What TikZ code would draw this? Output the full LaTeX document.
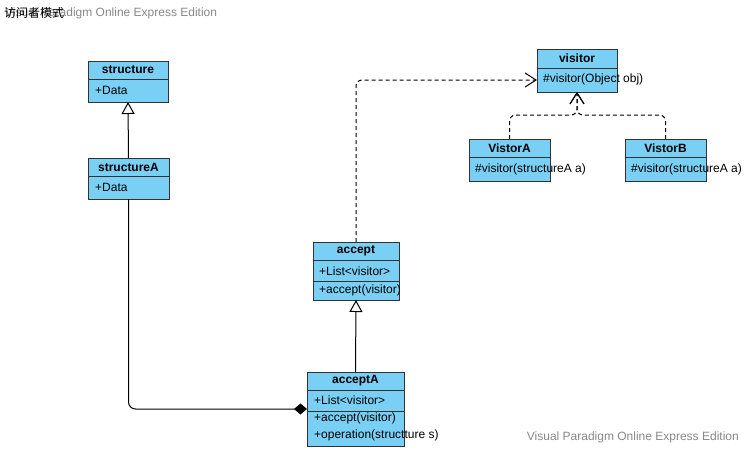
\documentclass[tikz,border=0pt]{standalone}
\usepackage{fontspec}
\setmainfont{Liberation Sans}
\newfontfamily\cjk{Noto Sans CJK SC}
\usetikzlibrary{arrows.meta,calc}
\definecolor{clsfill}{RGB}{122,207,245}
\definecolor{clsline}{RGB}{50,50,50}
\definecolor{wm}{RGB}{136,136,136}
\tikzset{
  cls/.style={draw=clsline, fill=clsfill, line width=1pt, rectangle, inner sep=0pt, outer sep=0pt, anchor=north west},
  div/.style={draw=clsline, line width=1pt},
  hdr/.style={font=\fontsize{12}{14}\selectfont\bfseries, inner sep=0pt, anchor=center},
  attr/.style={font=\fontsize{12}{14}\selectfont, inner sep=0pt, anchor=west},
  conn/.style={draw=black, line width=1pt},
  gen/.style={conn, -{Triangle[open,length=12pt,width=13pt]}},
  comp/.style={conn, rounded corners=7pt, -{Diamond[length=13pt,width=11pt]}},
  dep/.style={conn, dash pattern=on 4pt off 3pt, rounded corners=6pt, -{Straight Barb[length=11pt,width=14pt,line width=1pt]}},
  wmark/.style={font=\fontsize{12}{14}\selectfont, text=wm, inner sep=0pt, anchor=west}
}
\begin{document}
\begin{tikzpicture}[x=1pt,y=-1pt]
\useasboundingbox (0,0) rectangle (747,451);
\fill[white] (0,0) rectangle (747,451);

% watermarks / title
\node[wmark] (wm1) at (5,13) {Visual Paradigm Online Express Edition};
\node[font=\fontsize{12}{14}\selectfont\cjk, inner sep=0pt, anchor=west] (title) at (4,13) {访问者模式};
\node[wmark, anchor=east] (wm2) at (739,437) {Visual Paradigm Online Express Edition};

% structure
\node[cls, minimum width=80pt, minimum height=41pt] (s) at (88,61) {};
\draw[div] ($(s.north west)+(0,18)$) -- ($(s.north east)+(0,18)$);
\node[hdr] (sT) at ($(s.north)+(0,9)$) {structure};
\node[attr] (sD) at ($(s.north west)+(7,29)$) {+Data};

% structureA
\node[cls, minimum width=81pt, minimum height=41pt] (sA) at (88,158) {};
\draw[div] ($(sA.north west)+(0,18)$) -- ($(sA.north east)+(0,18)$);
\node[hdr] (sAT) at ($(sA.north)+(0,9)$) {structureA};
\node[attr] (sAD) at ($(sA.north west)+(7,29)$) {+Data};

% accept
\node[cls, minimum width=86pt, minimum height=58pt] (ac) at (313,242) {};
\draw[div] ($(ac.north west)+(0,18)$) -- ($(ac.north east)+(0,18)$);
\draw[div] ($(ac.north west)+(0,39)$) -- ($(ac.north east)+(0,39)$);
\node[hdr] (acT) at ($(ac.north)+(0,9)$) {accept};
\node[attr] (acL) at ($(ac.north west)+(6,29)$) {+List<visitor>};
\node[attr] (acM) at ($(ac.north west)+(6,48)$) {+accept(visitor)};

% acceptA
\node[cls, minimum width=97pt, minimum height=74pt] (aA) at (307,372) {};
\draw[div] ($(aA.north west)+(0,18)$) -- ($(aA.north east)+(0,18)$);
\draw[div] ($(aA.north west)+(0,39)$) -- ($(aA.north east)+(0,39)$);
\node[hdr] (aAT) at ($(aA.north)+(0,9)$) {acceptA};
\node[attr] (aAL) at ($(aA.north west)+(7,28)$) {+List<visitor>};
\node[attr] (aAM) at ($(aA.north west)+(7,46)$) {+accept(visitor)};
\node[attr] (aAO) at ($(aA.north west)+(7,63)$) {+operation(structture s)};

% visitor
\node[cls, minimum width=80pt, minimum height=43pt] (v) at (537,49) {};
\draw[div] ($(v.north west)+(0,19)$) -- ($(v.north east)+(0,19)$);
\node[hdr] (vT) at ($(v.north)+(0,9.5)$) {visitor};
\node[attr] (vM) at ($(v.north west)+(6,30)$) {\#visitor(Object obj)};

% VistorA
\node[cls, minimum width=81pt, minimum height=42pt] (vA) at (469,139) {};
\draw[div] ($(vA.north west)+(0,18)$) -- ($(vA.north east)+(0,18)$);
\node[hdr] (vAT) at ($(vA.north)+(0,9)$) {VistorA};
\node[attr] (vAM) at ($(vA.north west)+(6,30)$) {\#visitor(structureA a)};

% VistorB
\node[cls, minimum width=81pt, minimum height=42pt] (vB) at (625,139) {};
\draw[div] ($(vB.north west)+(0,18)$) -- ($(vB.north east)+(0,18)$);
\node[hdr] (vBT) at ($(vB.north)+(0,9)$) {VistorB};
\node[attr] (vBM) at ($(vB.north west)+(6,30)$) {\#visitor(structureA a)};

% connectors
\coordinate (cj) at ($(aA.north west)+(0,37)$);
\coordinate (vj) at ($(v.north west)+(0,31)$);
\coordinate (mj) at ($(v.south)+(0,23)$);

\draw[gen] (sA.north) -- (s.south);
\draw[gen] (aA.north) -- (ac.south);
\draw[comp] (sA.south) |- (cj);
\draw[dep] (ac.north) |- (vj);
\draw[dep] (vA.north) |- (mj) -- (v.south);
\draw[dep] (vB.north) |- (mj) -- (v.south);
\end{tikzpicture}
\end{document}
